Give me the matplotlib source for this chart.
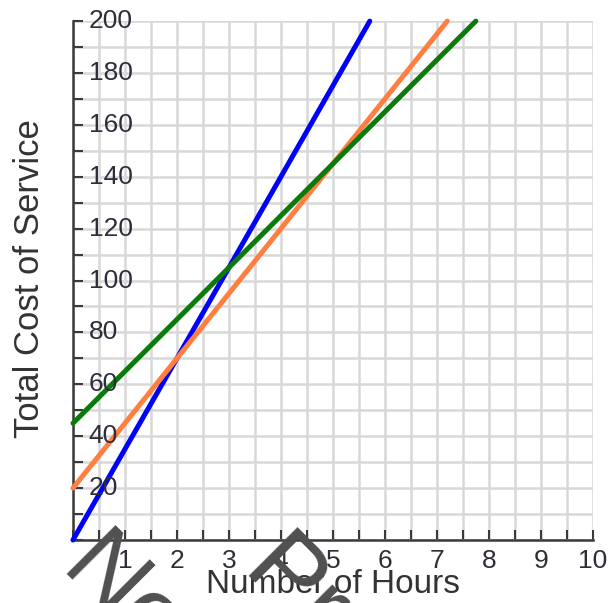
import numpy as np
import matplotlib
matplotlib.use("Agg")
import matplotlib.pyplot as plt
from matplotlib.transforms import blended_transform_factory

plt.rcParams['font.family'] = ['Liberation Sans', 'DejaVu Sans']

# points
blue_hours = [0, 2, 4, 5.71]
blue_cost = [0, 70, 140, 200]
orange_hours = [0, 2, 5, 7.2]
orange_cost = [20, 70, 145, 200]
green_hours = [0, 3, 5, 7.75]
green_cost = [45, 105, 145, 200]

x_labels = [1, 2, 3, 4, 5, 6, 7, 8, 9, 10]
y_labels = [20, 40, 60, 80, 100, 120, 140, 160, 180, 200]

txt_col = '#2e2e3a'
axis_col = '#3a3a3a'

fig = plt.figure(figsize=(6.08, 6.03), dpi=100)
ax = fig.add_axes([0.120, 0.1045, 0.855, 0.8605])

ax.set_xlim(0, 10)
ax.set_ylim(0, 200)
ax.set_xticks(np.arange(0, 10.01, 0.5))
ax.set_yticks(np.arange(0, 200.1, 10))
ax.grid(True, color='#d8d8d8', linewidth=1.8, zorder=0)
ax.set_axisbelow(True)

for s in ['top', 'right']:
    ax.spines[s].set_visible(False)
for s in ['left', 'bottom']:
    ax.spines[s].set_color(axis_col)
    ax.spines[s].set_linewidth(1.8)
    ax.spines[s].set_zorder(3)

ax.tick_params(direction='in', length=7, width=1.5, color=axis_col,
               labelleft=False, labelbottom=False)

for h, c, col in [(blue_hours, blue_cost, '#0000ff'),
                  (orange_hours, orange_cost, '#ff7f40'),
                  (green_hours, green_cost, '#0a7a0a')]:
    ax.plot(h, c, color=col, linewidth=3.6, solid_capstyle='round',
            clip_on=False, zorder=4)

ytr = blended_transform_factory(ax.transAxes, ax.transData)
for v in y_labels:
    ax.text(0.03, v, str(v), transform=ytr, ha='left', va='center',
            fontsize=19, color=txt_col, zorder=5)

xtr = blended_transform_factory(ax.transData, ax.transAxes)
for v in x_labels:
    ax.text(v, -0.018, str(v), transform=xtr, ha='center', va='top',
            fontsize=19, color=txt_col)

fig.text(0.049, 0.538, 'Total Cost of Service', rotation=90, ha='center',
         va='center', fontsize=25, color='#333333')
fig.text(0.548, 0.030, 'Number of Hours', ha='center', va='center',
         fontsize=24, color='#333333')

# watermark across the bottom
fig.text(57 / 608, 1 - 573 / 603, 'No', rotation=-45, rotation_mode='anchor',
         ha='left', va='baseline', fontsize=73, color='#505050', zorder=10)
fig.text(239 / 608, 1 - 575 / 603, 'Preview', rotation=-45,
         rotation_mode='anchor', ha='left', va='baseline', fontsize=73,
         color='#505050', zorder=10)

fig.savefig('out.png', dpi=100)
